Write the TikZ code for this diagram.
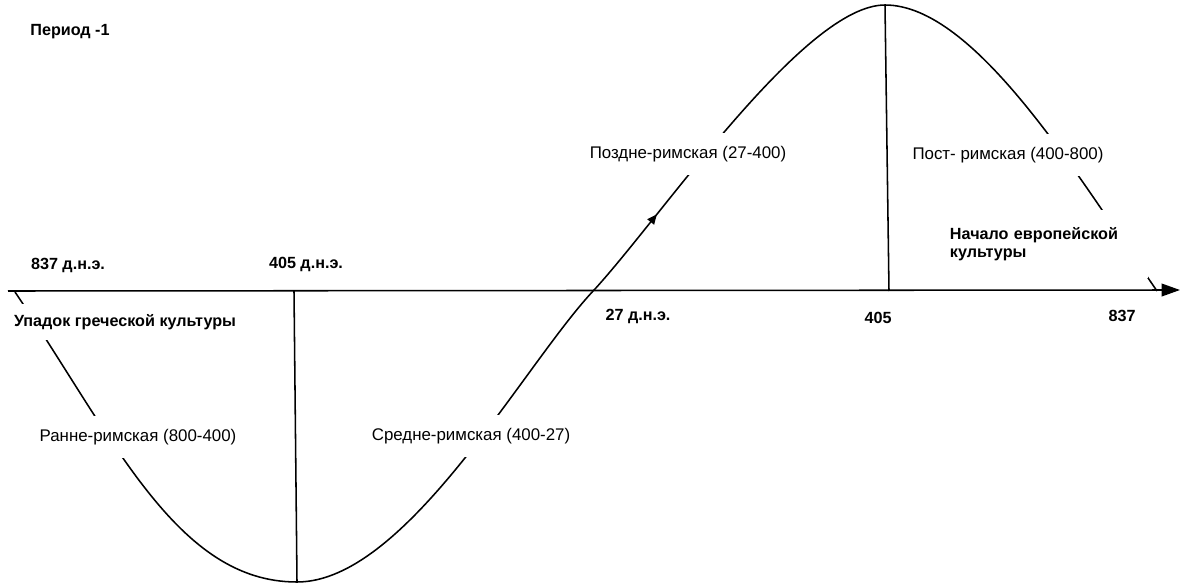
\documentclass[tikz,border=0pt]{standalone}
\usepackage{fontspec}
\setmainfont{Liberation Sans}
\usetikzlibrary{arrows.meta,decorations.markings}
\begin{document}
\begin{tikzpicture}[x=0.025cm, y=-0.025cm, line width=1.1pt,
    lbl/.style={fill=white, inner xsep=2pt, inner ysep=9.5pt, font=\fontsize{12}{13}\selectfont},
    blbl/.style={lbl, inner ysep=2pt, font=\fontsize{11.5}{13}\selectfont\bfseries},
    midarrow/.style={postaction={decorate}, decoration={markings,
        mark=at position #1 with {\arrow{Triangle[length=7pt,width=6pt]}}}}]
    \useasboundingbox (0,0) rectangle (1192,584);
    % ось времени
    \coordinate (ax0) at (8,291);
    \coordinate (ax1) at (1180,290);
    \draw[-{Triangle[length=13pt,width=9pt]}] (ax0) -- (ax1);
    % волна
    \coordinate (w0) at (15,292);
    \coordinate (lo) at (297,582);
    \coordinate (z) at (595,289);
    \coordinate (hi) at (885,5);
    \coordinate (w1) at (1157,291);
    \draw (w0) .. controls (115,440) and (177,582) .. (lo)
               .. controls (407,582) and (525,362) .. (z);
    \draw[midarrow=0.235] (z) .. controls (665,212) and (805,5) .. (hi);
    \draw (hi) .. controls (975,5) and (1077,175) .. (w1);
    % вертикали
    \coordinate (loax) at (294,291);
    \coordinate (hiax) at (889,291);
    \draw (loax) -- (lo);
    \draw (hi) -- (hiax);
    % подписи
    \node[blbl] (per) at (70,32) {Период -1};
    \node[blbl] (d837) at (68,265) {837 д.н.э.};
    \node[blbl] (d405) at (306,264) {405 д.н.э.};
    \node[blbl] (d27) at (638,316) {27 д.н.э.};
    \node[blbl] (p405) at (878,318) {405};
    \node[blbl] (p837) at (1122,316) {837};
    \node[blbl, inner ysep=7pt] (upadok) at (125,322) {Упадок греческой культуры};
    \node[lbl] (rann) at (138,437) {Ранне-римская (800-400)};
    \node[lbl] (sred) at (471,436) {Средне-римская (400-27)};
    \node[lbl] (pozd) at (688,154) {Поздне-римская (27-400)};
    \node[lbl] (post) at (1008,155) {Пост- римская (400-800)};
    \node[blbl, align=left, text width=4.7cm, inner xsep=0.25cm, inner ysep=0.42cm] (nach) at (1044,244) {Начало европейской\\культуры};
\end{tikzpicture}
\end{document}
